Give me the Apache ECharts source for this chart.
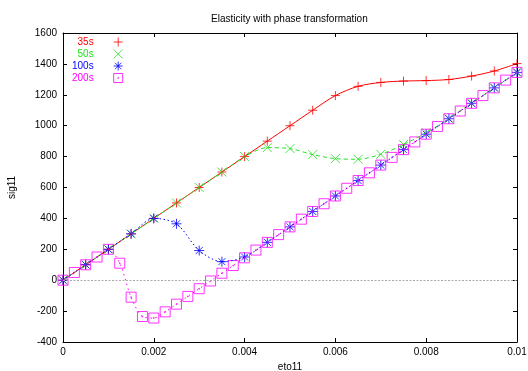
<!DOCTYPE html>
<html>
<head>
<meta charset="utf-8">
<script src="https://cdn.jsdelivr.net/npm/echarts@6/dist/echarts.min.js"></script>
<style>
  html, body { margin: 0; padding: 0; background: #fff; }
  #chart { width: 528px; height: 371px; }
</style>
</head>
<body>
<div id="chart"></div>
<script>
// strain values (every 0.0005) for 35s, 50s, 100s
const eto = [0, 0.0005, 0.001, 0.0015, 0.002, 0.0025, 0.003, 0.0035, 0.004, 0.0045, 0.005,
  0.0055, 0.006, 0.0065, 0.007, 0.0075, 0.008, 0.0085, 0.009, 0.0095, 0.01];
// strain values (every 0.00025) for 200s
const etoFine = [0, 0.00025, 0.0005, 0.00075, 0.001, 0.00125, 0.0015, 0.00175, 0.002, 0.00225,
  0.0025, 0.00275, 0.003, 0.00325, 0.0035, 0.00375, 0.004, 0.00425, 0.0045, 0.00475, 0.005,
  0.00525, 0.0055, 0.00575, 0.006, 0.00625, 0.0065, 0.00675, 0.007, 0.00725, 0.0075,
  0.00775, 0.008, 0.00825, 0.0085, 0.00875, 0.009, 0.00925, 0.0095, 0.00975, 0.01];

const sig35 = [0, 100, 200, 300, 400, 500, 600, 700, 800, 900, 1000,
  1100, 1195, 1255, 1280, 1289, 1292, 1299, 1321, 1354, 1402];
const sig50 = [0, 100, 200, 300, 400, 500, 600, 700, 800, 858, 852,
  813, 787, 783, 815, 878, 955, 1045, 1145, 1245, 1345];
const sig100 = [0, 100, 200, 300, 400, 365, 192, 120, 150, 245, 345,
  445, 545, 645, 745, 845, 945, 1045, 1145, 1245, 1345];
const sig200 = [0, 50, 100, 150, 200, 110, -110, -235, -245, -205,
  -155, -105, -55, -5, 45, 95, 145, 195, 245, 295, 345,
  395, 445, 495, 545, 595, 645, 695, 745, 795, 845,
  895, 945, 995, 1045, 1095, 1145, 1195, 1245, 1295, 1345];

const names = ['35s', '50s', '100s', '200s'];
const colors = ['#ff0000', '#22e022', '#0000ff', '#ff00ff'];

const FONT = 'Liberation Sans';

const plus = 'path://M5,0L5,10M0,5L10,5';
const cross = 'path://M0,0L10,10M0,10L10,0';
const star = 'path://M5,0L5,10M0,5L10,5M1.5,1.5L8.5,8.5M1.5,8.5L8.5,1.5';
const box = 'path://M0,0L10,0L10,10L0,10Z M4.6,4.6L5.4,4.6L5.4,5.4L4.6,5.4Z';

function pairs(xs, ys) {
  return xs.map((x, i) => [x, ys[i]]);
}

function curve(i, xs, ys, dash) {
  return {
    type: 'line',
    name: names[i] + ' line',
    data: pairs(xs, ys),
    smooth: 0.3,
    symbol: 'none',
    silent: true,
    lineStyle: { color: colors[i], width: 1, type: dash },
    emphasis: { disabled: true },
  };
}

function marks(i, xs, ys, symbol, size) {
  return {
    type: 'scatter',
    name: names[i],
    data: pairs(xs, ys),
    symbol,
    symbolSize: size,
    silent: true,
    itemStyle: { color: 'transparent', borderColor: colors[i], borderWidth: 1 },
    emphasis: { disabled: true },
  };
}

const red = curve(0, eto, sig35, 'solid');
// dotted zero axis
red.markLine = {
  silent: true,
  symbol: 'none',
  label: { show: false },
  lineStyle: { color: '#aaa', type: [2, 1.5], width: 1 },
  data: [{ yAxis: 0 }],
};

const axisCommon = {
  axisLine: { show: true, onZero: false, lineStyle: { color: '#000', width: 1 } },
  axisTick: { inside: true, length: 4, lineStyle: { color: '#000' } },
  splitLine: { show: false },
};

const chart = echarts.init(document.getElementById('chart'));
chart.setOption({
  animation: false,
  textStyle: { fontFamily: FONT },
  title: {
    text: 'Elasticity with phase transformation',
    left: 211,
    top: 14,
    padding: 0,
    textStyle: { fontSize: 10, fontWeight: 'normal', color: '#000', fontFamily: FONT },
  },
  legend: {
    orient: 'vertical',
    align: 'right',
    left: 72,
    top: 36,
    padding: 0,
    itemGap: 0,
    itemWidth: 9,
    itemHeight: 9,
    selectedMode: false,
    itemStyle: { borderWidth: 1 },
    textStyle: { fontSize: 10, lineHeight: 12, fontFamily: FONT, padding: [0, 15, 0, 0] },
    data: names.map((n, i) => ({ name: n, textStyle: { color: colors[i] } })),
  },
  grid: { left: 63, right: 11, top: 33, bottom: 29, containLabel: false, outerBoundsMode: 'none' },
  xAxis: [
    Object.assign({
      type: 'value', min: 0, max: 0.01, interval: 0.002,
      name: 'eto11', nameLocation: 'middle', nameGap: 18,
      nameTextStyle: { fontSize: 10, color: '#000' },
      axisLabel: { fontSize: 10, color: '#000', margin: 5, formatter: v => String(+v.toFixed(4)) },
    }, axisCommon),
    Object.assign({
      type: 'value', min: 0, max: 0.01, interval: 0.002, position: 'top',
      axisLabel: { show: false },
    }, axisCommon),
  ],
  yAxis: [
    Object.assign({
      type: 'value', min: -400, max: 1600, interval: 200,
      name: 'sig11', nameLocation: 'middle', nameGap: 46, nameRotate: 90,
      nameTextStyle: { fontSize: 10, color: '#000' },
      axisLabel: { fontSize: 10, color: '#000', margin: 6, formatter: v => String(v) },
    }, axisCommon),
    Object.assign({
      type: 'value', min: -400, max: 1600, interval: 200, position: 'right',
      axisLabel: { show: false },
    }, axisCommon),
  ],
  series: [
    red,
    marks(0, eto, sig35, plus, 9),
    curve(1, eto, sig50, [4, 3]),
    marks(1, eto, sig50, cross, 9),
    curve(2, eto, sig100, [1.5, 2.5]),
    marks(2, eto, sig100, star, 10),
    curve(3, etoFine, sig200, [1.5, 3.5]),
    marks(3, etoFine, sig200, box, 10),
  ],
});
</script>
</body>
</html>
